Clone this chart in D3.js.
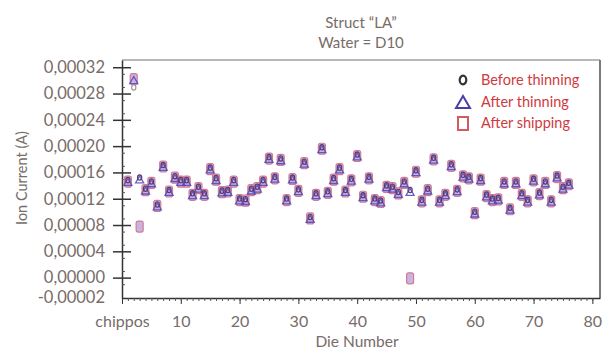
<!DOCTYPE html>
<html>
<head>
<meta charset="utf-8">
<script src="https://cdn.jsdelivr.net/npm/d3@7"></script>
<style>
  body { margin: 0; background: #fff; }
  text { font-family: Lato, "Open Sans", sans-serif; }
</style>
</head>
<body>
<div id="chart"></div>
<script>
// Die numbers 1..76 and the ion current (A)
const dieNumbers = d3.range(1, 77);

const beforeThinning = [
  0.000146, 0.000287, 0.000150, 0.000133, 0.000144, 0.000109, 0.000169, 0.000131, 0.000152, 0.000146,
  0.000146, 0.000126, 0.000136, 0.000126, 0.000165, 0.000149, 0.000130, 0.000131, 0.000146, 0.000118,
  0.000117, 0.000133, 0.000136, 0.000146, 0.000181, 0.000151, 0.000179, 0.000118, 0.000150, 0.000132,
  0.000174, 0.000090, 0.000126, 0.000196, 0.000129, 0.000149, 0.000165, 0.000131, 0.000148, 0.000185,
  0.000123, 0.000151, 0.000118, 0.000115, 0.000138, 0.000136, 0.000128, 0.000144, 0.000131, 0.000161,
  0.000116, 0.000133, 0.000180, 0.000116, 0.000126, 0.000170, 0.000132, 0.000154, 0.000151, 0.000098,
  0.000149, 0.000124, 0.000118, 0.000119, 0.000144, 0.000104, 0.000144, 0.000126, 0.000116, 0.000148,
  0.000127, 0.000144, 0.000116, 0.000153, 0.000136, 0.000142
];

const afterThinning = [
  0.000146, 0.000301, 0.000150, 0.000133, 0.000144, 0.000109, 0.000169, 0.000131, 0.000152, 0.000146,
  0.000146, 0.000126, 0.000136, 0.000126, 0.000165, 0.000149, 0.000130, 0.000131, 0.000146, 0.000118,
  0.000117, 0.000133, 0.000136, 0.000146, 0.000181, 0.000151, 0.000179, 0.000118, 0.000150, 0.000132,
  0.000174, 0.000090, 0.000126, 0.000196, 0.000129, 0.000149, 0.000165, 0.000131, 0.000148, 0.000185,
  0.000123, 0.000151, 0.000118, 0.000115, 0.000138, 0.000136, 0.000128, 0.000144, 0.000131, 0.000161,
  0.000116, 0.000133, 0.000180, 0.000116, 0.000126, 0.000170, 0.000132, 0.000154, 0.000151, 0.000098,
  0.000149, 0.000124, 0.000118, 0.000119, 0.000144, 0.000104, 0.000144, 0.000126, 0.000116, 0.000148,
  0.000127, 0.000144, 0.000116, 0.000153, 0.000136, 0.000142
];

const afterShipping = [
  0.000146, 0.000302, 0.0000776, 0.000133, 0.000144, 0.000109, 0.000169, 0.000131, 0.000152, 0.000146,
  0.000146, 0.000126, 0.000136, 0.000126, 0.000165, 0.000149, 0.000130, 0.000131, 0.000146, 0.000118,
  0.000117, 0.000133, 0.000136, 0.000146, 0.000181, 0.000151, 0.000179, 0.000118, 0.000150, 0.000132,
  0.000174, 0.000090, 0.000126, 0.000196, 0.000129, 0.000149, 0.000165, 0.000131, 0.000148, 0.000185,
  0.000123, 0.000151, 0.000118, 0.000115, 0.000138, 0.000136, 0.000128, 0.000144, -0.000001, 0.000161,
  0.000116, 0.000133, 0.000180, 0.000116, 0.000126, 0.000170, 0.000132, 0.000154, 0.000151, 0.000098,
  0.000149, 0.000124, 0.000118, 0.000119, 0.000144, 0.000104, 0.000144, 0.000126, 0.000116, 0.000148,
  0.000127, 0.000144, 0.000116, 0.000153, 0.000136, 0.000142
];

const yTickValues = [-0.00002, 0, 0.00004, 0.00008, 0.00012, 0.00016, 0.00020, 0.00024, 0.00028, 0.00032];
const xTickValues = [0, 10, 20, 30, 40, 50, 60, 70, 80];
const titleLines = ["Struct \u201cLA\u201d", "Water = D10"];
const legendLabels = ["Before thinning", "After thinning", "After shipping"];

const WIDTH = 607, HEIGHT = 349;
const MARGIN = {TOP: 60, RIGHT: 7, BOTTOM: 51, LEFT: 122};
const innerW = WIDTH - MARGIN.LEFT - MARGIN.RIGHT;
const innerH = HEIGHT - MARGIN.TOP - MARGIN.BOTTOM;

const textColor = "#776c68";

const svg = d3.select("#chart").append("svg")
  .attr("width", WIDTH)
  .attr("height", HEIGHT);

const g = svg.append("g")
  .attr("transform", "translate(" + MARGIN.LEFT + "," + MARGIN.TOP + ")");

const x = d3.scaleLinear().domain([0, 81.3]).range([0, innerW]);
const y = d3.scaleLinear().domain([-0.000031, 0.000331]).range([innerH, 0]);

// frame: light top, darker right
g.append("line")
  .attr("x1", 0).attr("x2", innerW).attr("y1", 0).attr("y2", 0)
  .attr("stroke", "#b8b8b8").attr("stroke-width", 2);
g.append("line")
  .attr("x1", innerW).attr("x2", innerW).attr("y1", 0).attr("y2", innerH)
  .attr("stroke", "#7a7a7a").attr("stroke-width", 2);

// y axis - major ticks cross the axis line
const fmt = (v) => v.toFixed(5).replace(".", ",");
const yAxis = g.append("g")
  .call(d3.axisLeft(y).tickValues(yTickValues).tickSize(9).tickSizeOuter(0).tickPadding(8).tickFormat(fmt));
yAxis.select(".domain").attr("stroke", "#333").attr("stroke-width", 1.5);
yAxis.selectAll(".tick line")
  .attr("x1", (d) => d < 0 ? 0 : 9)
  .attr("x2", (d) => d < 0 ? 0 : -9)
  .attr("stroke", "#333").attr("stroke-width", 1.5);
// the lowest label sits at the bottom end of the axis, as in the original
yAxis.selectAll(".tick text")
  .attr("dy", (d) => d < 0 ? (innerH - y(d) + 4) + "px" : "0.32em")
  .attr("fill", textColor).style("font-size", "16.5px");

// y minor ticks
g.append("g")
  .call(d3.axisRight(y).tickValues(d3.range(-0.00001, 0.00033, 0.00002)).tickSize(3).tickFormat(""))
  .call((a) => a.select(".domain").remove())
  .selectAll(".tick line").attr("stroke", "#555");

// x axis
const xAxis = g.append("g")
  .attr("transform", "translate(0," + innerH + ")")
  .call(d3.axisBottom(x).tickValues(xTickValues).tickSize(6).tickSizeOuter(0).tickPadding(12)
    .tickFormat((d) => d === 0 ? "chippos" : d));
xAxis.select(".domain").attr("stroke", "#333").attr("stroke-width", 1.5);
xAxis.selectAll(".tick line").attr("stroke", "#333");
xAxis.selectAll(".tick text").attr("fill", textColor).style("font-size", "16px");

// x minor ticks (every die)
g.append("g")
  .attr("transform", "translate(0," + innerH + ")")
  .call(d3.axisBottom(x).tickValues(d3.range(1, 81)).tickSize(3).tickFormat(""))
  .call((a) => a.select(".domain").remove())
  .selectAll(".tick line").attr("stroke", "#555");

// markers
g.append("g").selectAll("rect")
  .data(dieNumbers)
  .enter()
  .append("rect")
  .attr("x", (d) => x(d) - 3.5)
  .attr("y", (d, i) => y(afterShipping[i]) - 5.5)
  .attr("width", 7)
  .attr("height", 11)
  .attr("rx", 2)
  .attr("fill", "#8f6cc4")
  .attr("fill-opacity", 0.5)
  .attr("stroke", "#d47a95")
  .attr("stroke-width", 1.2);

const tri = d3.symbol().type(d3.symbolTriangle).size(28);
g.append("g").selectAll("path")
  .data(dieNumbers)
  .enter()
  .append("path")
  .attr("d", tri)
  .attr("transform", (d, i) => "translate(" + x(d) + "," + (y(afterThinning[i]) + 1.5) + ")")
  .attr("fill", "none")
  .attr("stroke", "#4f46b8")
  .attr("stroke-opacity", 0.85)
  .attr("stroke-width", 1.3);

g.append("g").selectAll("ellipse")
  .data(dieNumbers)
  .enter()
  .append("ellipse")
  .attr("cx", (d) => x(d))
  .attr("cy", (d, i) => y(beforeThinning[i]) - 1.5)
  .attr("rx", 2.1)
  .attr("ry", 2.7)
  .attr("fill", "none")
  .attr("stroke", (d, i) => Math.abs(beforeThinning[i] - afterThinning[i]) > 0.000005 ? "#9a9a9a" : "#5c3a6e")
  .attr("stroke-width", 1.2);

// legend
const legend = svg.append("g").attr("transform", "translate(463,80)");
legend.append("ellipse")
  .attr("cx", 0).attr("cy", 0).attr("rx", 3.3).attr("ry", 4.3)
  .attr("fill", "none").attr("stroke", "#333").attr("stroke-width", 2.2);
legend.append("path")
  .attr("d", "M-7,28 L0,16 L7,28 Z")
  .attr("fill", "none").attr("stroke", "#4a3fa8").attr("stroke-width", 2);
legend.append("rect")
  .attr("x", -5).attr("y", 37).attr("width", 10).attr("height", 13)
  .attr("fill", "#fff").attr("stroke", "#d35a5f").attr("stroke-width", 2);
legend.selectAll("text.lbl")
  .data(legendLabels)
  .enter()
  .append("text")
  .attr("class", "lbl")
  .attr("x", 18)
  .attr("y", (d, i) => i * 21.5 + 5)
  .attr("fill", "#cf3a3f")
  .style("font-size", "14.5px")
  .text((d) => d);

// title
svg.selectAll("text.title")
  .data(titleLines)
  .enter()
  .append("text")
  .attr("class", "title")
  .attr("x", 361)
  .attr("y", (d, i) => 28 + i * 20)
  .attr("text-anchor", "middle")
  .attr("fill", textColor)
  .style("font-size", "15px")
  .text((d) => d);

// axis titles
svg.append("text")
  .attr("x", 357)
  .attr("y", 347)
  .attr("text-anchor", "middle")
  .attr("fill", textColor)
  .style("font-size", "15.5px")
  .text("Die Number");

svg.append("text")
  .attr("transform", "translate(27,178) rotate(-90)")
  .attr("text-anchor", "middle")
  .attr("fill", textColor)
  .style("font-size", "14.5px")
  .text("Ion Current (A)");
</script>
</body>
</html>
